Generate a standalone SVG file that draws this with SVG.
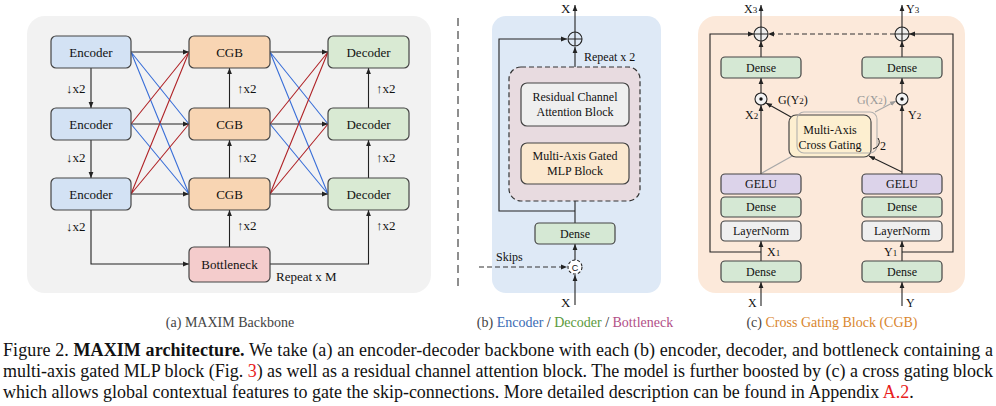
<svg xmlns="http://www.w3.org/2000/svg" width="996" height="406" viewBox="0 0 996 406">
<defs>
<style>
.t{font-family:"Liberation Serif","Times New Roman",serif;font-size:13px;fill:#111}
.s{font-family:"Liberation Serif","Times New Roman",serif;font-size:12px;fill:#111}
.sub{font-family:"Liberation Serif","Times New Roman",serif;font-size:14px;fill:#444}
.c{text-anchor:middle}
.box{stroke:#444;stroke-width:1.2}
.ln{stroke:#222;stroke-width:1.1;fill:none}
.dash{stroke:#333;stroke-width:1.2;fill:none;stroke-dasharray:5 3}
.blue{stroke:#3a6fd8;stroke-width:1.1;fill:none}
.red{stroke:#b02428;stroke-width:1.1;fill:none}
.gray{stroke:#a8a8a8;stroke-width:1.1;fill:none}
.enc{fill:#d3e2f4}
.cgb{fill:#f8d5b3}
.dec{fill:#d9ead3}
.bot{fill:#f4cccc}
.den{fill:#d5e8d4}
.ln2{fill:#efefef}
.gelu{fill:#dcd3ea}
.cap{font-family:"Liberation Serif","Times New Roman",serif;font-size:18px;fill:#111}
</style>
<marker id="ah" markerWidth="6" markerHeight="6" refX="6" refY="3" orient="auto" markerUnits="userSpaceOnUse"><path d="M0,0.6 L6,3 L0,5.4 z" fill="#222"/></marker>
<marker id="ahg" markerWidth="6" markerHeight="6" refX="6" refY="3" orient="auto" markerUnits="userSpaceOnUse"><path d="M0,0.6 L6,3 L0,5.4 z" fill="#9a9a9a"/></marker>
</defs>
<rect width="996" height="406" fill="#fff"/>

<!-- panel backgrounds -->
<rect x="27" y="16" width="404" height="277" rx="18" fill="#f2f2f2"/>
<line x1="458" y1="18" x2="458" y2="291" stroke="#444" stroke-width="1.2" stroke-dasharray="8 5"/>
<rect x="492" y="16" width="169" height="277" rx="14" fill="#dee9f6"/>
<rect x="698" y="16" width="267" height="277" rx="18" fill="#fce9da"/>

<!-- Panel (a) connectors -->
<g id="connectors-a">
<path class="ln" d="M91,68 V108" marker-end="url(#ah)"/>
<path class="ln" d="M91,140 V178" marker-end="url(#ah)"/>
<path class="ln" d="M91,210 V264 H189" marker-end="url(#ah)"/>
<path class="ln" d="M229.5,108 V68" marker-end="url(#ah)"/>
<path class="ln" d="M229.5,178 V140" marker-end="url(#ah)"/>
<path class="ln" d="M229.5,247 V210" marker-end="url(#ah)"/>
<path class="ln" d="M368.5,108 V68" marker-end="url(#ah)"/>
<path class="ln" d="M368.5,178 V140" marker-end="url(#ah)"/>
<path class="ln" d="M270,264 H368.5 V210" marker-end="url(#ah)"/>
<path class="ln" d="M131,52 H189" marker-end="url(#ah)"/>
<path class="ln" d="M131,124 H189" marker-end="url(#ah)"/>
<path class="ln" d="M131,194 H189" marker-end="url(#ah)"/>
<path class="ln" d="M270,52 H328" marker-end="url(#ah)"/>
<path class="ln" d="M270,124 H328" marker-end="url(#ah)"/>
<path class="ln" d="M270,194 H328" marker-end="url(#ah)"/>
<path class="blue" d="M131,52 L189,124 M131,52 L189,194 M131,124 L189,194"/>
<path class="red" d="M131,124 L189,52 M131,194 L189,52 M131,194 L189,124"/>
<path class="blue" d="M270,52 L328,124 M270,52 L328,194 M270,124 L328,194"/>
<path class="red" d="M270,124 L328,52 M270,194 L328,52 M270,194 L328,124"/>
</g>
<g id="labels-a" class="t">
<text x="66" y="93">↓x2</text>
<text x="66" y="162">↓x2</text>
<text x="66" y="231">↓x2</text>
<text x="237" y="93">↑x2</text>
<text x="237" y="162">↑x2</text>
<text x="237" y="230">↑x2</text>
<text x="376" y="93">↑x2</text>
<text x="376" y="162">↑x2</text>
<text x="376" y="230">↑x2</text>
<text x="276" y="281">Repeat x M</text>
</g>
<g id="enc1"><rect class="box enc" x="51" y="36" width="80" height="32" rx="5"/><text class="t c" x="91" y="56.5">Encoder</text></g>
<g id="enc2"><rect class="box enc" x="51" y="108" width="80" height="32" rx="5"/><text class="t c" x="91" y="128.5">Encoder</text></g>
<g id="enc3"><rect class="box enc" x="51" y="178" width="80" height="32" rx="5"/><text class="t c" x="91" y="198.5">Encoder</text></g>
<g id="cgb1"><rect class="box cgb" x="189" y="36" width="81" height="32" rx="5"/><text class="t c" x="229.5" y="56.5">CGB</text></g>
<g id="cgb2"><rect class="box cgb" x="189" y="108" width="81" height="32" rx="5"/><text class="t c" x="229.5" y="128.5">CGB</text></g>
<g id="cgb3"><rect class="box cgb" x="189" y="178" width="81" height="32" rx="5"/><text class="t c" x="229.5" y="198.5">CGB</text></g>
<g id="dec1"><rect class="box dec" x="328" y="36" width="81" height="32" rx="5"/><text class="t c" x="368.5" y="56.5">Decoder</text></g>
<g id="dec2"><rect class="box dec" x="328" y="108" width="81" height="32" rx="5"/><text class="t c" x="368.5" y="128.5">Decoder</text></g>
<g id="dec3"><rect class="box dec" x="328" y="178" width="81" height="32" rx="5"/><text class="t c" x="368.5" y="198.5">Decoder</text></g>
<g id="bottleneck"><rect class="box bot" x="189" y="247" width="81" height="35" rx="5"/><text class="t c" x="229.5" y="269">Bottleneck</text></g>
<text class="sub c" x="230" y="327">(a) MAXIM Backbone</text>

<!-- Panel (b) -->
<g id="connectors-b">
<path class="ln" d="M575,305 V275" marker-end="url(#ah)"/>
<path class="ln" d="M575,260 V244" marker-end="url(#ah)"/>
<path class="ln" d="M575,223 V184" marker-end="url(#ah)"/>
<path class="ln" d="M575,143 V126" marker-end="url(#ah)"/>
<path class="ln" d="M575,83 V47" marker-end="url(#ah)"/>
<path class="ln" d="M575,32 V5" marker-end="url(#ah)"/>
<path class="ln" d="M575,211 H499 V39 H567" marker-end="url(#ah)"/>
<path class="dash" d="M479,267 H567" marker-end="url(#ah)"/>
</g>
<g id="plus-b"><circle cx="575" cy="39" r="7" fill="none" stroke="#222" stroke-width="1.1"/><path class="ln" d="M568,39 H582 M575,32 V46"/></g>
<g id="concat-b"><circle cx="575" cy="267" r="7" fill="#fff" stroke="#222" stroke-width="1.1" stroke-dasharray="3 2"/><text x="575" y="270.5" class="c" style="font-family:'Liberation Sans',sans-serif;font-size:9px;fill:#111">C</text></g>
<rect x="509" y="67" width="131" height="134" rx="12" fill="#e8dbe0" stroke="#333" stroke-width="1.2" stroke-dasharray="5 3"/>
<g id="rcab"><rect class="box" x="521" y="83" width="108" height="43" rx="6" fill="#efefef"/><text class="s c" x="575" y="101">Residual Channel</text><text class="s c" x="575" y="115.5">Attention Block</text></g>
<g id="magmlp"><rect class="box" x="521" y="143" width="108" height="41" rx="6" fill="#fbe8cf"/><text class="s c" x="575" y="160">Multi-Axis Gated</text><text class="s c" x="575" y="174.5">MLP Block</text></g>
<g id="dense-b"><rect class="box den" x="535" y="223" width="80" height="21" rx="4"/><text class="s c" x="575" y="237.5">Dense</text></g>
<text class="t" x="561" y="13">X</text>
<text class="t" x="561" y="307">X</text>
<text class="s" x="584" y="61">Repeat x 2</text>
<text class="s" x="496" y="261">Skips</text>
<text class="sub c" x="575" y="327"><tspan style="fill:#444">(b) </tspan><tspan style="fill:#3a6cb4">Encoder</tspan><tspan style="fill:#222"> / </tspan><tspan style="fill:#5b9a3c">Decoder</tspan><tspan style="fill:#222"> / </tspan><tspan style="fill:#b24f87">Bottleneck</tspan></text>

<!-- Panel (c) -->
<g id="connectors-c">
<path class="ln" d="M761,306 V282" marker-end="url(#ah)"/>
<path class="ln" d="M761,261 V241" marker-end="url(#ah)"/>
<path class="ln" d="M761,174 V105" marker-end="url(#ah)"/>
<path class="ln" d="M761,93 V78" marker-end="url(#ah)"/>
<path class="ln" d="M761,57 V41" marker-end="url(#ah)"/>
<path class="ln" d="M761,27 V5" marker-end="url(#ah)"/>
<path class="ln" d="M761,252 H710 V34 H754" marker-end="url(#ah)"/>
<path class="ln" d="M902,306 V282" marker-end="url(#ah)"/>
<path class="ln" d="M902,261 V241" marker-end="url(#ah)"/>
<path class="ln" d="M902,174 V105" marker-end="url(#ah)"/>
<path class="ln" d="M902,93 V78" marker-end="url(#ah)"/>
<path class="ln" d="M902,57 V41" marker-end="url(#ah)"/>
<path class="ln" d="M902,27 V5" marker-end="url(#ah)"/>
<path class="ln" d="M902,252 H953 V34 H909" marker-end="url(#ah)"/>
<path class="dash" d="M895,34 H768" marker-end="url(#ah)"/>
<path class="ln" d="M791,117 L766,103" marker-end="url(#ah)"/>
<path class="gray" d="M875,112 L896,101" marker-end="url(#ahg)"/>
<path class="ln" d="M902,172 L869,156" marker-end="url(#ah)"/>
<path class="gray" d="M762,173 L794,155"/>
</g>
<g id="plus-c1"><circle cx="761" cy="34" r="7" fill="#eee" stroke="#222" stroke-width="1.1"/><path class="ln" d="M754,34 H768 M761,27 V41"/></g>
<g id="plus-c2"><circle cx="902" cy="34" r="7" fill="#eee" stroke="#222" stroke-width="1.1"/><path class="ln" d="M895,34 H909 M902,27 V41"/></g>
<g id="odot-c1"><circle cx="761" cy="99" r="6" fill="#f4f4f4" stroke="#222" stroke-width="1.1"/><circle cx="761" cy="99" r="1.7" fill="#111"/></g>
<g id="odot-c2"><circle cx="902" cy="99" r="6" fill="#f4f4f4" stroke="#222" stroke-width="1.1"/><circle cx="902" cy="99" r="1.7" fill="#111"/></g>
<g id="dense-c1"><rect class="box den" x="721" y="57" width="80" height="21" rx="4"/><text class="s c" x="761" y="71.5">Dense</text></g>
<g id="dense-c2"><rect class="box den" x="862" y="57" width="80" height="21" rx="4"/><text class="s c" x="902" y="71.5">Dense</text></g>
<g id="macg"><rect class="box" x="789" y="115" width="82" height="42" rx="7" fill="#fdefd0"/><rect x="797" y="112" width="80" height="41" rx="7" fill="none" stroke="#aaa" stroke-width="1.1" opacity="0.9"/><text class="s c" x="830" y="134">Multi-Axis</text><text class="s c" x="830" y="148.5">Cross Gating</text></g>
<path d="M878,138 Q881,143 877,147 L873,149" fill="none" stroke="#222" stroke-width="1"/>
<text class="s" x="880" y="150">2</text>
<g id="gelu-c1"><rect class="box gelu" x="721" y="174" width="80" height="20" rx="4"/><text class="s c" x="761" y="188">GELU</text></g>
<g id="dense-c3"><rect class="box den" x="721" y="197" width="80" height="20" rx="4"/><text class="s c" x="761" y="211">Dense</text></g>
<g id="ln-c1"><rect class="box ln2" x="721" y="221" width="80" height="20" rx="4"/><text class="s c" x="761" y="235">LayerNorm</text></g>
<g id="dense-c5"><rect class="box den" x="721" y="261" width="80" height="21" rx="4"/><text class="s c" x="761" y="275.5">Dense</text></g>
<g id="gelu-c2"><rect class="box gelu" x="862" y="174" width="80" height="20" rx="4"/><text class="s c" x="902" y="188">GELU</text></g>
<g id="dense-c4"><rect class="box den" x="862" y="197" width="80" height="20" rx="4"/><text class="s c" x="902" y="211">Dense</text></g>
<g id="ln-c2"><rect class="box ln2" x="862" y="221" width="80" height="20" rx="4"/><text class="s c" x="902" y="235">LayerNorm</text></g>
<g id="dense-c6"><rect class="box den" x="862" y="261" width="80" height="21" rx="4"/><text class="s c" x="902" y="275.5">Dense</text></g>
<g class="s">
<text x="744" y="13">X<tspan font-size="9">3</tspan></text>
<text x="906" y="13">Y<tspan font-size="9">3</tspan></text>
<text x="778" y="104">G(Y<tspan font-size="9">2</tspan>)</text>
<text x="857" y="104" style="fill:#999">G(X<tspan font-size="9">2</tspan>)</text>
<text x="745" y="119">X<tspan font-size="9">2</tspan></text>
<text x="908" y="119">Y<tspan font-size="9">2</tspan></text>
<text x="767" y="256">X<tspan font-size="9">1</tspan></text>
<text x="884" y="256">Y<tspan font-size="9">1</tspan></text>
<text x="748" y="307">X</text>
<text x="906" y="307">Y</text>
</g>
<text class="sub c" x="832" y="327"><tspan style="fill:#444">(c) </tspan><tspan style="fill:#d9862e">Cross Gating Block (CGB)</tspan></text>

<!-- Caption -->
<g id="caption" class="cap">
<text x="3" y="356" textLength="990" lengthAdjust="spacing">Figure 2. <tspan font-weight="bold">MAXIM architecture.</tspan> We take (a) an encoder-decoder backbone with each (b) encoder, decoder, and bottleneck containing a</text>
<text x="3" y="377" textLength="990" lengthAdjust="spacing">multi-axis gated MLP block (Fig. <tspan fill="#e8201c">3</tspan>) as well as a residual channel attention block. The model is further boosted by (c) a cross gating block</text>
<text x="3" y="398">which allows global contextual features to gate the skip-connections. More detailed description can be found in Appendix <tspan fill="#e8201c">A.2</tspan>.</text>
</g>
</svg>
